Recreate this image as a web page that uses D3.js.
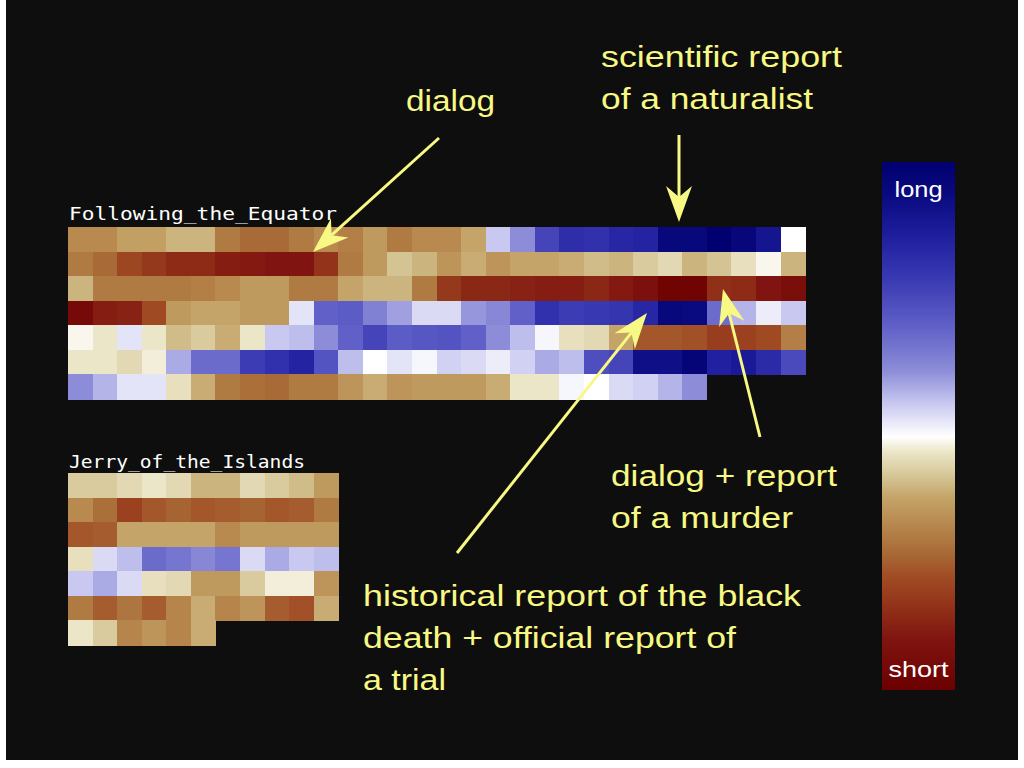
<!DOCTYPE html>
<html><head><meta charset="utf-8">
<script src="https://cdn.jsdelivr.net/npm/d3@7"></script>
<style>html,body{margin:0;padding:0;background:#fff;} svg{display:block;}</style>
</head><body><svg id="chart" width="1024" height="768"></svg>
<script>
// ---- data: sentence-length measure per text block (0 = short, 1 = long)
const books = ["Following_the_Equator", "Jerry_of_the_Islands"];
const equatorRows = [
  [0.33,0.33,0.37,0.37,0.40,0.40,0.30,0.27,0.27,0.30,0.33,0.31,0.36,0.30,0.33,0.33,0.38,0.56,0.62,0.76,0.82,0.81,0.84,0.85,0.95,0.95,1.00,0.96,0.90,0.50],
  [0.30,0.27,0.21,0.18,0.15,0.15,0.12,0.11,0.10,0.10,0.17,0.30,0.36,0.42,0.40,0.35,0.39,0.35,0.38,0.38,0.39,0.41,0.40,0.43,0.45,0.40,0.42,0.46,0.49,0.40],
  [0.40,0.30,0.30,0.30,0.30,0.31,0.33,0.36,0.36,0.30,0.30,0.38,0.40,0.40,0.30,0.18,0.14,0.14,0.13,0.12,0.12,0.14,0.11,0.08,0.02,0.02,0.16,0.15,0.10,0.07],
  [0.05,0.12,0.13,0.22,0.36,0.38,0.38,0.36,0.36,0.53,0.70,0.71,0.64,0.60,0.54,0.54,0.61,0.63,0.70,0.81,0.78,0.79,0.80,0.84,0.95,0.94,0.68,0.58,0.52,0.56],
  [0.49,0.47,0.53,0.47,0.41,0.43,0.39,0.47,0.56,0.57,0.62,0.70,0.76,0.71,0.72,0.73,0.70,0.62,0.57,0.51,0.46,0.45,0.38,0.24,0.24,0.23,0.19,0.20,0.22,0.31],
  [0.47,0.47,0.45,0.48,0.59,0.68,0.68,0.78,0.81,0.85,0.73,0.57,0.50,0.53,0.51,0.55,0.54,0.52,0.55,0.59,0.57,0.74,0.76,0.92,0.92,0.97,0.86,0.88,0.83,0.75],
  [0.62,0.58,0.53,0.53,0.46,0.39,0.30,0.28,0.27,0.30,0.30,0.35,0.39,0.35,0.36,0.36,0.36,0.39,0.47,0.47,0.51,0.50,0.54,0.55,0.58,0.62]
];
const jerryRows = [
  [0.43,0.43,0.45,0.47,0.45,0.40,0.40,0.45,0.43,0.41,0.36],
  [0.33,0.28,0.20,0.24,0.26,0.24,0.25,0.26,0.24,0.25,0.30],
  [0.24,0.25,0.38,0.38,0.38,0.38,0.33,0.36,0.36,0.36,0.36],
  [0.46,0.54,0.57,0.68,0.66,0.63,0.66,0.54,0.59,0.56,0.57],
  [0.56,0.59,0.54,0.46,0.45,0.36,0.36,0.43,0.48,0.48,0.35],
  [0.30,0.25,0.29,0.25,0.32,0.39,0.32,0.35,0.25,0.23,0.39],
  [0.47,0.43,0.32,0.35,0.32,0.39]
];
const legendLabels = ["long", "short"];
const annotationTexts = [
  ["dialog"],
  ["scientific report", "of a naturalist"],
  ["dialog + report", "of a murder"],
  ["historical report of the black", "death + official report of", "a trial"]
];

// ---- styling / layout
const colorStops = [0,0.10,0.16,0.22,0.27,0.33,0.38,0.42,0.47,0.50,0.56,0.62,0.70,0.78,0.86,0.94,1.0];
const colorRange = ["#6c0000","#801410","#903018","#a04a24","#a86a36","#b88a50","#c4a468","#d4c494","#ece6c8","#ffffff","#c8c8f0","#8c8cd8","#6060c8","#3c3cb4","#2020a0","#0a0a80","#000070"];
const color = d3.scaleLinear().domain(colorStops).range(colorRange).clamp(true);

const svg = d3.select("#chart");
svg.append("rect").attr("x", 6).attr("y", 0).attr("width", 1012).attr("height", 760).attr("fill", "#0e0e0e");

const cell = 24.57;
const panels = [
  {rows: equatorRows, x0: 68, y0: 227, titleY: 220, titleW: 268},
  {rows: jerryRows,   x0: 68, y0: 473, titleY: 468, titleW: 236}
];

panels.forEach((p, i) => {
  const nCols = d3.max(p.rows, r => r.length);
  const x = d3.scaleBand().domain(d3.range(nCols)).range([p.x0, p.x0 + nCols * cell]);
  const y = d3.scaleBand().domain(d3.range(p.rows.length)).range([p.y0, p.y0 + p.rows.length * cell]);
  const g = svg.append("g");
  const cells = p.rows.flatMap((r, ri) => r.map((v, ci) => ({ri, ci, v})));
  g.selectAll("rect").data(cells).join("rect")
    .attr("x", d => x(d.ci))
    .attr("y", d => y(d.ri))
    .attr("width", x.bandwidth() + 0.6)
    .attr("height", y.bandwidth() + 0.6)
    .attr("fill", d => color(d.v))
    .attr("shape-rendering", "crispEdges");
  svg.append("text")
    .attr("x", p.x0 + 1).attr("y", p.titleY)
    .attr("font-family", "DejaVu Sans Mono").attr("font-size", 17)
    .attr("fill", "#ffffff")
    .attr("textLength", p.titleW).attr("lengthAdjust", "spacingAndGlyphs")
    .text(books[i]);
});

// ---- colour bar legend (top = long, bottom = short)
const cb = {x: 882, y: 162, w: 73, h: 528};
const defs = svg.append("defs");
const grad = defs.append("linearGradient").attr("id", "cbgrad")
  .attr("x1", 0).attr("y1", 0).attr("x2", 0).attr("y2", 1);
const legendScale = d3.scaleLinear().domain([1, 0.5, 0]).range([0, 0.52, 1]);
d3.range(100, -1, -1).map(k => k / 100).forEach(v => {
  grad.append("stop").attr("offset", legendScale(v)).attr("stop-color", color(v));
});
svg.append("rect").attr("x", cb.x).attr("y", cb.y).attr("width", cb.w).attr("height", cb.h)
  .attr("fill", "url(#cbgrad)");
[[legendLabels[0], 197, 48], [legendLabels[1], 677, 60]].forEach(([t, yy, w]) => {
  svg.append("text").attr("x", cb.x + cb.w / 2).attr("y", yy)
    .attr("text-anchor", "middle")
    .attr("font-family", "Liberation Sans").attr("font-size", 22)
    .attr("fill", "#ffffff")
    .attr("textLength", w).attr("lengthAdjust", "spacingAndGlyphs")
    .text(t);
});

// ---- annotations
const annoColor = "#f8f884";
const annoLayout = [
  {x: 406, y: 111, widths: [89]},
  {x: 601, y: 67, widths: [241, 212]},
  {x: 611, y: 486, widths: [226, 182]},
  {x: 363, y: 606, widths: [438, 373, 83]}
];
annotationTexts.forEach((lines, i) => {
  const L = annoLayout[i];
  lines.forEach((t, k) => {
    svg.append("text").attr("x", L.x).attr("y", L.y + k * 42)
      .attr("font-family", "Liberation Sans").attr("font-size", 30)
      .attr("fill", annoColor)
      .attr("textLength", L.widths[k]).attr("lengthAdjust", "spacingAndGlyphs")
      .text(t);
  });
});

const arrows = [
  {from: [439, 138], to: [313, 252]},
  {from: [679, 135], to: [679, 222]},
  {from: [457, 553], to: [647, 313]},
  {from: [760, 437], to: [723, 289]}
];
const headL = 36, headW = 13, notch = 11;
arrows.forEach(a => {
  const [x1, y1] = a.from, [x2, y2] = a.to;
  const ang = Math.atan2(y2 - y1, x2 - x1);
  const cos = Math.cos(ang), sin = Math.sin(ang);
  const pt = (lx, ly) => [x2 + lx * cos - ly * sin, y2 + lx * sin + ly * cos];
  const back = pt(-headL + notch, 0);
  svg.append("line").attr("x1", x1).attr("y1", y1).attr("x2", back[0]).attr("y2", back[1])
    .attr("stroke", annoColor).attr("stroke-width", 3);
  const pts = [pt(0, 0), pt(-headL, -headW), pt(-headL + notch, 0), pt(-headL, headW)];
  svg.append("path").attr("d", d3.line()(pts) + "Z").attr("fill", annoColor);
});
</script>
</body></html>
